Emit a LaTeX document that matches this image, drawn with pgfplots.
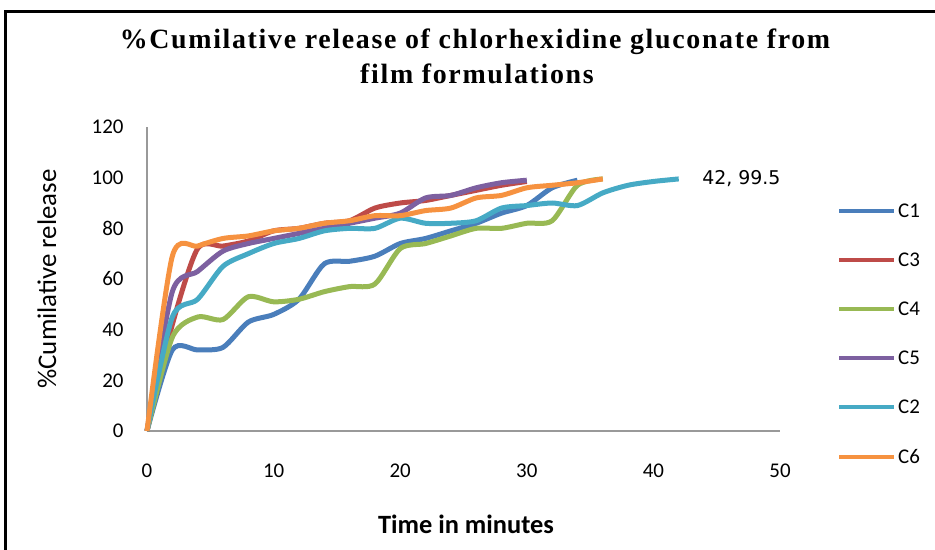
\documentclass[border=0pt]{standalone}
\usepackage{pgfplots}
\pgfplotsset{compat=1.18}
\usepackage{fontspec}
\setmainfont{Carlito}
\newfontfamily\titlefont[LetterSpace=6]{Liberation Serif}
\newfontfamily\labelfont{DejaVu Sans}
\definecolor{cblue}{HTML}{4A7EBB}
\definecolor{cred}{HTML}{BE4B48}
\definecolor{cgreen}{HTML}{98B954}
\definecolor{cpurple}{HTML}{7D60A0}
\definecolor{ccyan}{HTML}{46AAC5}
\definecolor{corange}{HTML}{F69240}
\begin{document}
\begin{tikzpicture}[x=1bp,y=1bp]
\path[use as bounding box] (0,0) rectangle (935,-550);
\draw[line width=3bp] (5,-552) -- (5,-12) -- (937,-12);
\node[anchor=base, font=\titlefont\bfseries\fontsize{28}{32}\selectfont] at (475,-49) {\%Cumilative release of chlorhexidine gluconate from};
\node[anchor=base, font=\titlefont\bfseries\fontsize{28}{32}\selectfont] at (477,-84) {film formulations};
\node[rotate=90, font=\fontsize{27}{30}\selectfont] at (47,-279) {\%Cumilative release};
\node[font=\bfseries\fontsize{26.5}{30}\selectfont] at (466,-524) {Time in minutes};
\begin{axis}[
  at={(147bp,-431bp)}, anchor=south west,
  scale only axis, width=633bp, height=304bp,
  xmin=0, xmax=50, ymin=0, ymax=120,
  xtick={0,10,...,50}, ytick={0,20,...,120},
  axis x line*=bottom, axis y line*=left,
  axis line style={-, draw=gray!80, line width=1.2bp},
  major tick length=0pt,
  tick label style={font=\fontsize{21}{24}\selectfont},
  /pgf/number format/assume math mode=true,
  xticklabel style={yshift=-29bp},
  yticklabel style={xshift=-20bp},
  clip=false,
  legend style={at={(rel axis cs:1.09,0.755)}, anchor=north west, draw=none, fill=none,
    font=\fontsize{21}{24}\selectfont, row sep=30bp, inner sep=0pt},
  legend cell align=left,
  legend image code/.code={\draw[#1, line width=4bp] (0bp,0bp) -- (55bp,0bp);},
  every axis plot/.append style={line width=5bp, smooth, tension=0.45, no markers},
]
\addplot[cblue] coordinates {(0,0) (2,32) (4,32) (6,33) (8,43) (10,46) (12,52) (14,66) (16,67) (18,69) (20,74) (22,76) (24,79) (26,82) (28,86) (30,89) (32,96) (34,99)};
\addlegendentry{C1}
\addplot[cred] coordinates {(0,0) (2,42) (4,72) (6,73) (8,75) (10,79) (12,80) (14,82) (16,83) (18,88) (20,90) (22,91) (24,93) (26,95) (28,97) (30,98.5)};
\addlegendentry{C3}
\addplot[cgreen] coordinates {(0,0) (2,37) (4,45) (6,44) (8,53) (10,51) (12,52) (14,55) (16,57) (18,58) (20,72) (22,74) (24,77) (26,80) (28,80) (30,82) (32,83) (34,97) (36,99.5)};
\addlegendentry{C4}
\addplot[cpurple] coordinates {(0,0) (2,55) (4,63) (6,71) (8,74) (10,76) (12,78) (14,80) (16,82) (18,84) (20,86) (22,92) (24,93) (26,96) (28,98) (30,99)};
\addlegendentry{C5}
\addplot[ccyan] coordinates {(0,0) (2,45) (4,52) (6,65) (8,70) (10,74) (12,76) (14,79) (16,80) (18,80) (20,84) (22,82) (24,82) (26,83) (28,88) (30,89) (32,90) (34,89) (36,94) (38,97) (40,98.5) (42,99.5)};
\addlegendentry{C2}
\addplot[corange] coordinates {(0,0) (2,69) (4,73) (6,76) (8,77) (10,79) (12,80) (14,82) (16,83) (18,85) (20,85) (22,87) (24,88) (26,92) (28,93) (30,96) (32,97) (34,98) (36,99.5)};
\addlegendentry{C6}
\node[anchor=west, font=\labelfont\fontsize{19}{22}\selectfont] at (axis cs:42,99.5) {\hspace{20bp}42, 99.5};
\end{axis}
\end{tikzpicture}
\end{document}
